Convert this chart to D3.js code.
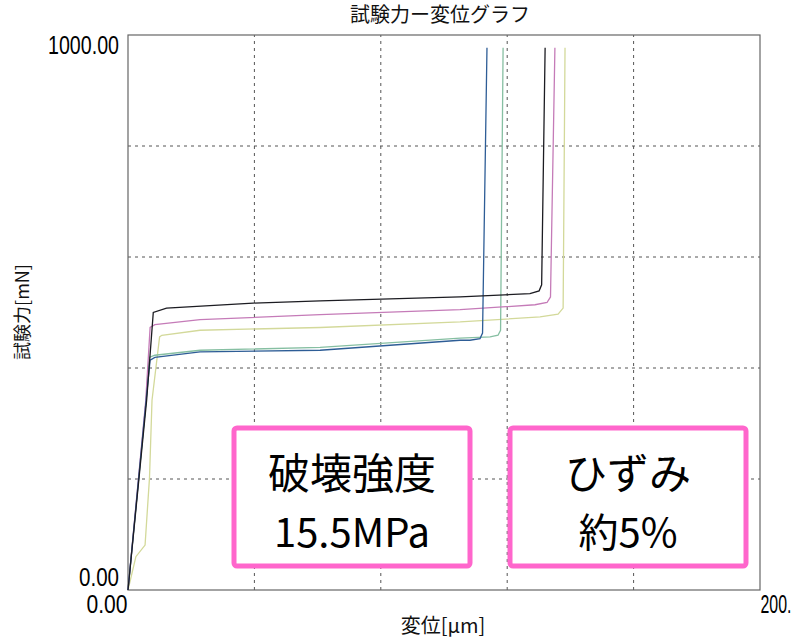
<!DOCTYPE html>
<html>
<head>
<meta charset="utf-8">
<script src="https://cdn.jsdelivr.net/npm/d3@7"></script>
<style>
  body { margin: 0; background: #fff; }
  svg { display: block; }
</style>
</head>
<body>
<svg id="chart"></svg>
<script>
// displacement [um], test force [mN]
var curveBlack   = [[0,0],[5.9,342],[8.0,500],[12.2,508],[39.6,517],[60.8,521],[105.1,528],[127.2,534],[130.1,539],[130.9,550],[132.0,977]]
var curveMagenta = [[0,0],[5.6,340],[7.0,473],[8.5,478],[22.8,487],[60.8,496],[105.1,505],[128.8,514],[132.6,518],[133.7,528],[135.1,977]]
var curveYellow  = [[0,0],[2.5,60],[5.4,81],[6.8,202],[7.6,342],[10.0,456],[10.7,459],[22.8,468],[60.8,473],[105.1,483],[130.4,492],[136.1,497],[137.7,508],[138.3,977]]
var curveGreen   = [[0,0],[5.7,340],[6.7,419],[8.5,423],[22.8,432],[60.8,437],[105.1,454],[114.6,456],[117.1,459],[117.9,468],[118.7,977]]
var curveBlue    = [[0,0],[5.7,340],[7.0,414],[8.5,419],[22.8,429],[60.8,432],[105.1,450],[108.2,450],[111.4,453],[112.2,463],[113.6,977]]

var xTickLabels = ["0.00", "200."]
var yTickLabels = ["0.00", "1000.00"]
var xGrid = [40, 80, 120, 160]
var yGrid = [200, 400, 600, 800]

var title = "試験力ー変位グラフ"
var xTitle = "変位[μm]"
var yTitle = "試験力[mN]"
var noteLeft = ["破壊強度", "15.5MPa"]
var noteRight = ["ひずみ", "約5%"]

var dimensions = {
  width: 798,
  height: 640,
  margin: { top: 35, bottom: 50, right: 38, left: 128 }
}

var svg = d3.select("#chart")
  .attr("width", dimensions.width)
  .attr("height", dimensions.height)

var xScale = d3.scaleLinear()
  .domain([0, 200])
  .range([dimensions.margin.left, dimensions.width - dimensions.margin.right])

var yScale = d3.scaleLinear()
  .domain([0, 1000])
  .range([dimensions.height - dimensions.margin.bottom, dimensions.margin.top])

var tickFont = "'Liberation Sans', 'DejaVu Sans', sans-serif"
var jpFont = "'Noto Sans CJK JP', 'Noto Sans', sans-serif"

// dashed grid
svg.append("g").selectAll("line")
  .data(xGrid).enter().append("line")
  .attr("x1", d => xScale(d)).attr("x2", d => xScale(d))
  .attr("y1", yScale(0)).attr("y2", yScale(1000))
  .attr("stroke", "#555").attr("stroke-width", 1).attr("stroke-dasharray", "3,4")

svg.append("g").selectAll("line")
  .data(yGrid).enter().append("line")
  .attr("y1", d => yScale(d)).attr("y2", d => yScale(d))
  .attr("x1", xScale(0)).attr("x2", xScale(200))
  .attr("stroke", "#555").attr("stroke-width", 1).attr("stroke-dasharray", "3,4")

// frame
svg.append("rect")
  .attr("x", xScale(0)).attr("y", yScale(1000))
  .attr("width", xScale(200) - xScale(0))
  .attr("height", yScale(0) - yScale(1000))
  .attr("fill", "none").attr("stroke", "#666").attr("stroke-width", 1.2)

// axes (end labels only, narrow digits squeezed with textLength)
var yAxis = svg.append("g")
  .attr("transform", `translate(${xScale(0) - 6},0)`)
  .call(d3.axisLeft(yScale).tickValues([0, 1000]).tickSize(0)
        .tickFormat((d, i) => yTickLabels[i]))
yAxis.select(".domain").remove()
yAxis.selectAll("text")
  .style("font-family", tickFont).style("font-size", "25px").attr("fill", "#000")
  .attr("dy", (d, i) => i === 0 ? "-0.18em" : "0.72em")
  .attr("textLength", (d, i) => i === 0 ? 40 : 71)
  .attr("lengthAdjust", "spacingAndGlyphs")

var xAxis = svg.append("g")
  .attr("transform", `translate(0,${yScale(0) + 4})`)
  .call(d3.axisBottom(xScale).tickValues([0, 200]).tickSize(0)
        .tickFormat((d, i) => xTickLabels[i]))
xAxis.select(".domain").remove()
xAxis.selectAll("text")
  .style("font-family", tickFont).style("font-size", "25px").attr("fill", "#000")
  .attr("text-anchor", (d, i) => i === 0 ? "end" : "start")
  .attr("dx", (d, i) => i === 0 ? "-1" : "0")
  .attr("dy", "0.64em")
  .attr("textLength", (d, i) => i === 0 ? 41 : 31)
  .attr("lengthAdjust", "spacingAndGlyphs")

// curves
var line = d3.line().x(d => xScale(d[0])).y(d => yScale(d[1]))
var curves = [
  { data: curveYellow, color: "#d3d99a" },
  { data: curveGreen, color: "#86bfa2" },
  { data: curveMagenta, color: "#c57bb8" },
  { data: curveBlue, color: "#2e5d96" },
  { data: curveBlack, color: "#1c1c22" }
]
svg.append("g").selectAll("path")
  .data(curves).enter().append("path")
  .attr("d", d => line(d.data))
  .attr("fill", "none")
  .attr("stroke", d => d.color)
  .attr("stroke-width", 1.3)

// titles
svg.append("text")
  .text(title)
  .attr("x", 440).attr("y", 17)
  .attr("text-anchor", "middle").attr("dominant-baseline", "middle")
  .style("font-family", jpFont).style("font-size", "20px").attr("fill", "#111")

svg.append("text")
  .text(xTitle)
  .attr("x", 443).attr("y", 628)
  .attr("text-anchor", "middle").attr("dominant-baseline", "middle")
  .style("font-family", jpFont).style("font-size", "20px").attr("fill", "#111")

svg.append("text")
  .text(yTitle)
  .attr("transform", "translate(24, 312) rotate(-90)")
  .attr("text-anchor", "middle").attr("dominant-baseline", "middle")
  .style("font-family", jpFont).style("font-size", "18px").attr("fill", "#111")

// pink annotation boxes
function noteBox(x0, x1, lines) {
  var g = svg.append("g")
  g.append("rect")
    .attr("x", x0).attr("y", 428)
    .attr("width", x1 - x0).attr("height", 138)
    .attr("rx", 3)
    .attr("fill", "#fff").attr("stroke", "#ff66cc").attr("stroke-width", 5)
  g.append("text")
    .text(lines[0])
    .attr("x", (x0 + x1) / 2).attr("y", 470)
    .attr("text-anchor", "middle").attr("dominant-baseline", "central")
    .style("font-family", jpFont).style("font-size", "42px").attr("fill", "#000")
  g.append("text")
    .text(lines[1])
    .attr("x", (x0 + x1) / 2).attr("y", 530)
    .attr("text-anchor", "middle").attr("dominant-baseline", "central")
    .style("font-family", jpFont).style("font-size", "40px").attr("fill", "#000")
}
noteBox(234, 470, noteLeft)
noteBox(510, 746, noteRight)
</script>
</body>
</html>
